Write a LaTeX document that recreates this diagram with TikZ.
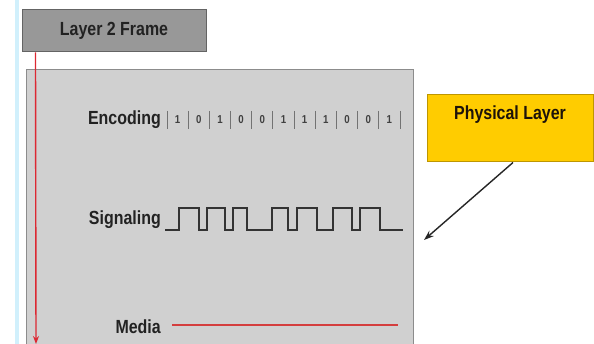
\documentclass[tikz,border=0pt]{standalone}
\usepackage{fontspec}
\setmainfont{Liberation Sans}[FakeStretch=0.84]
\usetikzlibrary{arrows.meta}
\definecolor{panelgray}{RGB}{208,208,208}
\definecolor{paneledge}{RGB}{140,140,140}
\definecolor{framegray}{RGB}{152,152,152}
\definecolor{frameedge}{RGB}{100,100,100}
\definecolor{physyellow}{RGB}{255,204,0}
\definecolor{physedge}{RGB}{190,150,0}
\definecolor{framered}{RGB}{220,40,50}
\definecolor{mediared}{RGB}{212,62,62}
\definecolor{textdark}{RGB}{34,34,34}
\tikzset{
  labeltext/.style={font=\fontsize{19}{21}\selectfont\bfseries, text=textdark, inner sep=0pt},
  bitfont/.style={font=\fontsize{11.5}{12}\selectfont\bfseries, text=black!75, inner sep=0pt},
  bitbar/.style={draw=black!55, line width=0.9},
  wave/.style={draw=black!80, line width=1.8, line join=miter},
}
\begin{document}
\begin{tikzpicture}[x=1pt,y=-1pt]
  \useasboundingbox (0,0) rectangle (594,344);
  \fill[white] (0,0) rectangle (594,344);
  \clip (0,0) rectangle (594,344);
  \fill[cyan!18] (15,0) rectangle (19,344);
  % grey panel
  \draw[fill=panelgray, draw=paneledge, line width=1] (26,70) rectangle (413,360);
  % layer 2 frame
  \node[labeltext, draw=frameedge, fill=framegray, line width=1,
    minimum width=184pt, minimum height=42pt] (frame) at (114,31) {Layer 2 Frame};
  \coordinate (frameend) at (36,344);
  \draw[framered, line width=1.4, -{Stealth[length=8pt,width=6pt]}]
  ([xshift=14pt]frame.south west) -- (frameend);
  % encoding
  \node[labeltext, anchor=east] (enc) at (161,120) {Encoding};
  \foreach \i in {0,...,11}
  {
      \draw[bitbar] ({167+\i*21.18},111) -- ++(0,18);
  }
  \foreach \b [count=\i] in
    {
        1,0,1,0,0,1,1,1,0,0,1
    }
    {
        \node[bitfont] at ({167+(\i-0.5)*21.18},120) {\b};
    }
  % signaling
  \node[labeltext, anchor=east] (sig) at (161,220) {Signaling};
  \draw[wave] (165,230)
    \foreach \a/\b in {179/199, 207/225, 233/247, 272/288, 297/317, 333/352, 360/380}
    { -- (\a,230) -- (\a,208) -- (\b,208) -- (\b,230) }
    -- (403,230);
  % media
  \node[labeltext, anchor=east] (media) at (161,327) {Media};
  \coordinate (mediastart) at (172,325);
  \coordinate (mediaend) at (398,325);
  \draw[mediared, line width=2.6] (mediastart) -- (mediaend);
  % physical layer
  \node[draw=physedge, fill=physyellow, line width=1,
    minimum width=166pt, minimum height=67pt] (phys) at (510,128.5) {};
  \node[labeltext, text=black!85!brown] (physlabel) at ([yshift=13.5pt]phys.center) {Physical Layer};
  \coordinate (sigtip) at (424,240);
  \draw[black!85, line width=1.4, -{Stealth[length=10pt,width=7pt]}]
  ([xshift=3pt]phys.south) -- (sigtip);
\end{tikzpicture}
\end{document}
